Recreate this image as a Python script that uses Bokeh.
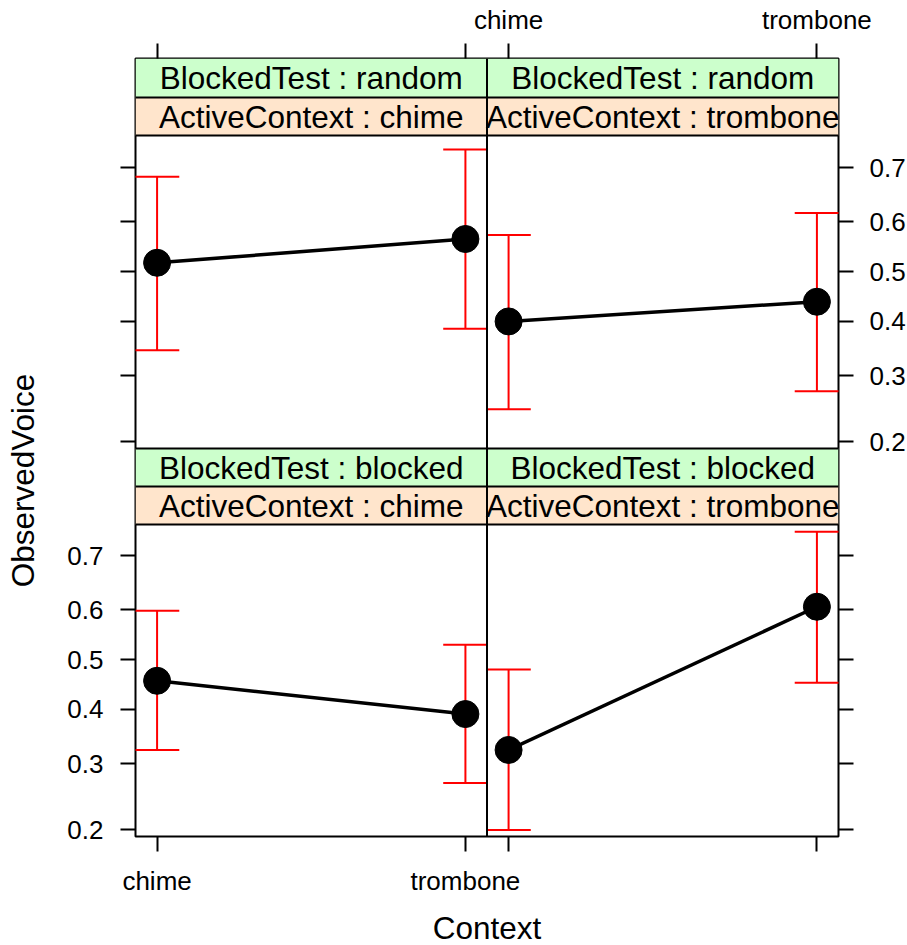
import math
from bokeh.plotting import figure
from bokeh.models import (Range1d, FixedTicker, CustomJSTickFormatter, BoxAnnotation, Span,
                          LinearAxis)
from bokeh.layouts import row, column
from bokeh.embed import file_html
from bokeh.resources import INLINE
from bokeh.core.properties import value

# ---------------- data ----------------
context = ["chime", "trombone"]
blocked_levels = ["random", "blocked"]      # rows: top, bottom
active_levels = ["chime", "trombone"]       # columns: left, right

fit_random_chime = [0.518, 0.566]
lower_random_chime = [0.345, 0.386]
upper_random_chime = [0.684, 0.730]

fit_random_trombone = [0.400, 0.439]
lower_random_trombone = [0.246, 0.274]
upper_random_trombone = [0.574, 0.617]

fit_blocked_chime = [0.457, 0.391]
lower_blocked_chime = [0.324, 0.268]
upper_blocked_chime = [0.598, 0.530]

fit_blocked_trombone = [0.324, 0.606]
lower_blocked_trombone = [0.200, 0.453]
upper_blocked_trombone = [0.480, 0.739]

y_tick_values = [0.2, 0.3, 0.4, 0.5, 0.6, 0.7]
y_tick_labels = ["0.2", "0.3", "0.4", "0.5", "0.6", "0.7"]

# ---------------- styling / layout ----------------
FONT = "Liberation Sans"
TICK_FS = "26px"
STRIP_FS = "31.5px"
LAB_FS = "31.5px"
GREEN = "#CCFFCC"
ORANGE = "#FFE5CC"
CAP = 0.072
BORDER_W = 2

YLAB_W = 40
LEFT_B = 95
RIGHT_B = 67
TOP_B = 58
BOTTOM_B = 62
FRAME_W = 703
FRAME_H = 778
PANEL_PX = 312
# frame-relative pixel offsets (from frame top) of strip / panel edges
TOP_STRIP_EDGES = [0, 39, 77]
BOT_STRIP_EDGES = [390, 428, 466]


def logit(p):
    return math.log(p / (1.0 - p))


X_START, X_END = 0.93, 2.07
Y_START, Y_END = -1.44, 1.10
DX = X_END - X_START
K = (Y_END - Y_START) / PANEL_PX


def y_at(off):
    return Y_START + (FRAME_H - off) * K


Y_OFF_TOP = y_at(BOT_STRIP_EDGES[0]) - Y_START   # shift of the upper row of panels

x_pos = [i + 1 for i in range(len(context))]
panels = [
    # (blocked, active, fit, lower, upper, col, row)
    ("random", "chime", fit_random_chime, lower_random_chime, upper_random_chime, 0, 0),
    ("random", "trombone", fit_random_trombone, lower_random_trombone, upper_random_trombone, 1, 0),
    ("blocked", "chime", fit_blocked_chime, lower_blocked_chime, upper_blocked_chime, 0, 1),
    ("blocked", "trombone", fit_blocked_trombone, lower_blocked_trombone, upper_blocked_trombone, 1, 1),
]

LOOKUP = """
let b = 0;
for (let i = 0; i < tvals.length; i++) { if (Math.abs(tvals[i]-tick) < Math.abs(tvals[b]-tick)) b = i; }
return tlabels[b];
"""


def style_axis(ax, tvals, tlabels, standoff):
    ax.ticker = FixedTicker(ticks=tvals)
    ax.formatter = CustomJSTickFormatter(args=dict(tvals=tvals, tlabels=tlabels), code=LOOKUP)
    ax.major_tick_out = 15
    ax.major_tick_in = 0
    ax.minor_tick_line_color = None
    ax.axis_line_color = None
    ax.major_tick_line_color = "black"
    ax.major_tick_line_width = 2
    ax.major_label_text_font = FONT
    ax.major_label_text_font_size = TICK_FS
    ax.major_label_text_color = "black"
    ax.major_label_standoff = standoff


p = figure(frame_width=FRAME_W, frame_height=FRAME_H,
           x_range=Range1d(X_START, X_START + 2 * DX),
           y_range=Range1d(y_at(FRAME_H), y_at(0)),
           x_axis_location="below", y_axis_location="left",
           toolbar_location=None, output_backend="svg", min_border=0,
           min_border_left=LEFT_B, min_border_right=RIGHT_B,
           min_border_top=TOP_B, min_border_bottom=BOTTOM_B)
p.grid.visible = False
p.outline_line_color = "black"
p.outline_line_width = BORDER_W
p.background_fill_color = "white"
p.border_fill_color = "white"

# strips (backgrounds)
for edges in (TOP_STRIP_EDGES, BOT_STRIP_EDGES):
    p.add_layout(BoxAnnotation(top=y_at(edges[0]), bottom=y_at(edges[1]), fill_color=GREEN,
                               fill_alpha=1, line_color=None, level="underlay"))
    p.add_layout(BoxAnnotation(top=y_at(edges[1]), bottom=y_at(edges[2]), fill_color=ORANGE,
                               fill_alpha=1, line_color=None, level="underlay"))

# strip texts
mid = (x_pos[0] + x_pos[-1]) / 2.0
st_x, st_y, st_t = [], [], []
for blocked, active, fit, lo, hi, c, r in panels:
    edges = TOP_STRIP_EDGES if r == 0 else BOT_STRIP_EDGES
    st_x += [mid + c * DX, mid + c * DX]
    st_y += [(y_at(edges[0]) + y_at(edges[1])) / 2, (y_at(edges[1]) + y_at(edges[2])) / 2]
    st_t += ["BlockedTest : " + blocked, "ActiveContext : " + active]
p.text(x=st_x, y=st_y, text=st_t, text_align="center", text_baseline="middle",
       text_font=value(FONT), text_font_size=STRIP_FS, text_color="black")

# data
for blocked, active, fit, lo, hi, c, r in panels:
    yo = Y_OFF_TOP if r == 0 else 0.0
    xs = [x + c * DX for x in x_pos]
    lf = [logit(v) + yo for v in fit]
    ll = [logit(v) + yo for v in lo]
    lh = [logit(v) + yo for v in hi]
    p.segment(x0=xs, x1=xs, y0=ll, y1=lh, line_color="red", line_width=2)
    p.segment(x0=[x - CAP for x in xs], x1=[x + CAP for x in xs], y0=ll, y1=ll,
              line_color="red", line_width=2)
    p.segment(x0=[x - CAP for x in xs], x1=[x + CAP for x in xs], y0=lh, y1=lh,
              line_color="red", line_width=2)
    p.line(x=xs, y=lf, line_color="black", line_width=3.5)
    p.scatter(x=xs, y=lf, size=27, fill_color="black", line_color="black")

# panel / strip borders
p.add_layout(Span(location=X_END, dimension="height", line_color="black", line_width=BORDER_W))
for off in TOP_STRIP_EDGES[1:] + BOT_STRIP_EDGES:
    p.add_layout(Span(location=y_at(off), dimension="width", line_color="black",
                      line_width=BORDER_W))

# axes (lattice alternating style)
y_log = [logit(v) for v in y_tick_values]
y_all = [v + Y_OFF_TOP for v in y_log] + y_log
blank_y = ["" for _ in y_tick_labels]
x_all = x_pos + [x + DX for x in x_pos]
blank_x = ["" for _ in context]

style_axis(p.yaxis[0], y_all, blank_y + y_tick_labels, 17)
right_ax = LinearAxis()
p.add_layout(right_ax, "right")
style_axis(right_ax, y_all, y_tick_labels + blank_y, 16)
style_axis(p.xaxis[0], x_all, context + blank_x, 14)
top_ax = LinearAxis()
p.add_layout(top_ax, "above")
style_axis(top_ax, x_all, blank_x + context, 9)

GRID_H = TOP_B + FRAME_H + BOTTOM_B
TOTAL_W = YLAB_W + LEFT_B + FRAME_W + RIGHT_B
XLAB_H = 945 - GRID_H

ylab = figure(width=YLAB_W, height=GRID_H, x_range=Range1d(0, YLAB_W), y_range=Range1d(0, GRID_H),
              x_axis_location=None, y_axis_location=None, toolbar_location=None,
              output_backend="svg", min_border=0)
ylab.grid.visible = False
ylab.outline_line_color = None
ylab.text(x=[22], y=[GRID_H - 487], text=["ObservedVoice"], angle=math.pi / 2,
          text_align="center", text_baseline="middle",
          text_font=value(FONT), text_font_size=LAB_FS, text_color="black")

xlab = figure(width=TOTAL_W, height=XLAB_H, x_range=Range1d(0, TOTAL_W), y_range=Range1d(0, XLAB_H),
              x_axis_location=None, y_axis_location=None, toolbar_location=None,
              output_backend="svg", min_border=0)
xlab.grid.visible = False
xlab.outline_line_color = None
xlab.text(x=[YLAB_W + LEFT_B + FRAME_W / 2], y=[18], text=["Context"], text_align="center",
          text_baseline="middle",
          text_font=value(FONT), text_font_size=LAB_FS, text_color="black")

page = column(row(ylab, p), xlab)

open("out.html", "w").write(file_html(page, INLINE))
